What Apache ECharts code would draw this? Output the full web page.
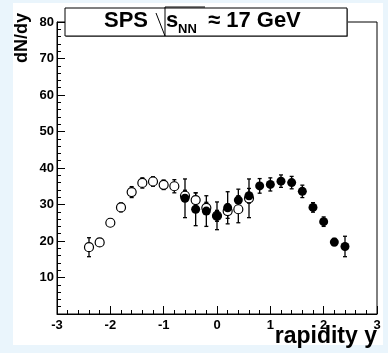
<!DOCTYPE html>
<html><head><meta charset="utf-8">
<script src="https://cdn.jsdelivr.net/npm/echarts@6/dist/echarts.min.js"></script>
<style>html,body{margin:0;padding:0;background:#eaf5fc;}#c{width:388px;height:353px;}</style>
</head><body><div id="c"></div>
<script>
// measured (filled) points
const filledX = [-0.6,-0.4,-0.2,0.0,0.2,0.4,0.6,0.8,1.0,1.2,1.4,1.6,1.8,2.0,2.2,2.4];
const filledY = [31.7,28.7,28.2,26.9,29.1,31.2,32.4,35.1,35.5,36.4,36.0,33.6,29.2,25.3,19.7,18.5];
const filledErr = [5.3,4.5,4.2,3.8,4.4,3.0,2.0,2.0,1.8,1.7,1.7,1.7,1.3,1.3,1.0,2.8];
// reflected (open) points
const openX = [-2.4,-2.2,-2.0,-1.8,-1.6,-1.4,-1.2,-1.0,-0.8,-0.6,-0.4,-0.2,0.0,0.2,0.4,0.6];
const openY = [18.3,19.6,25.0,29.2,33.4,35.9,36.3,35.4,35.0,32.4,31.2,29.1,26.9,28.2,28.7,31.7];
const openErr = [2.6,0.9,1.0,1.2,1.5,1.4,1.3,1.3,1.8,1.5,2.0,1.5,1.5,2.0,3.7,5.3];
const xTicks = [-3,-2,-1,0,1,2,3];
const yTicks = [0,10,20,30,40,50,60,70,80];

const FONT = 'Liberation Sans';
const chart = echarts.init(document.getElementById('c'));

function errSeries(xs, ys, es, color) {
  return {
    type: 'custom',
    data: xs.map((x, i) => [x, ys[i] - es[i], ys[i] + es[i]]),
    renderItem: function (params, api) {
      const lo = api.coord([api.value(0), api.value(1)]);
      const hi = api.coord([api.value(0), api.value(2)]);
      const c = 2;
      const st = { stroke: color, lineWidth: 1.3 };
      return { type: 'group', children: [
        { type: 'line', shape: { x1: lo[0], y1: lo[1], x2: hi[0], y2: hi[1] }, style: st },
        { type: 'line', shape: { x1: lo[0] - c, y1: lo[1], x2: lo[0] + c, y2: lo[1] }, style: st },
        { type: 'line', shape: { x1: hi[0] - c, y1: hi[1], x2: hi[0] + c, y2: hi[1] }, style: st }
      ]};
    },
    z: 2, silent: true
  };
}

const option = {
  animation: false,
  backgroundColor: '#eaf5fc',
  grid: { left: 57, right: 11, top: 22, bottom: 39, show: true, borderColor: '#000', borderWidth: 1, backgroundColor: 'transparent' },
  xAxis: {
    type: 'value', min: xTicks[0], max: xTicks[xTicks.length - 1], interval: 1,
    axisLine: { onZero: false, lineStyle: { color: '#000', width: 1 } },
    axisTick: { inside: true, length: 8, lineStyle: { color: '#000' } },
    minorTick: { show: true, splitNumber: 5, length: 4, lineStyle: { color: '#000' } },
    splitLine: { show: false },
    axisLabel: { color: '#000', fontFamily: FONT, fontWeight: 'bold', fontSize: 13, margin: 5 }
  },
  yAxis: {
    type: 'value', min: yTicks[0], max: yTicks[yTicks.length - 1], interval: 10,
    axisLine: { onZero: false, lineStyle: { color: '#000', width: 1 } },
    axisTick: { inside: true, length: 8, lineStyle: { color: '#000' } },
    minorTick: { show: true, splitNumber: 5, length: 4, lineStyle: { color: '#000' } },
    splitLine: { show: false },
    axisLabel: { color: '#000', fontFamily: FONT, fontWeight: 'bold', fontSize: 13, margin: 3,
      formatter: v => (v === 0 ? '' : String(v)) }
  },
  graphic: [
    { type: 'rect', z: -100, shape: { x: 13, y: 3, width: 370, height: 342 }, style: { fill: '#fff' } },
    { type: 'rect', z: 100, shape: { x: 66, y: 9, width: 282, height: 28 }, style: { fill: '#888' } },
    { type: 'rect', z: 101, shape: { x: 65, y: 8, width: 282, height: 28 }, style: { fill: '#fff', stroke: '#000', lineWidth: 1 } },
    { type: 'text', z: 102, left: 104, top: 10, style: { text: 'SPS', font: 'bold 22px "Liberation Sans"', fill: '#000' } },
    { type: 'polyline', z: 102, shape: { points: [[156, 13], [165, 36], [165, 7], [205, 7]] }, style: { stroke: '#000', lineWidth: 1, fill: null } },
    { type: 'text', z: 102, left: 166, top: 10, style: { text: 's', font: 'bold 22px "Liberation Sans"', fill: '#000' } },
    { type: 'text', z: 102, left: 178, top: 23, style: { text: 'NN', font: 'bold 13px "Liberation Sans"', fill: '#000' } },
    { type: 'text', z: 102, left: 208, top: 10, style: { text: '≈ 17 GeV', font: 'bold 22px "Liberation Sans"', fill: '#000' } },
    { type: 'text', z: 102, x: 13, y: 13, rotation: Math.PI / 2, style: { text: 'dN/dy', font: 'bold 18px "Liberation Sans"', fill: '#000', align: 'right', verticalAlign: 'top' } },
    { type: 'text', z: 102, right: 11, top: 325, style: { text: 'rapidity y', font: 'bold 23px "Liberation Sans"', fill: '#000' } }
  ],
  series: [
    errSeries(openX, openY, openErr, '#000'),
    {
      type: 'scatter', data: openX.map((x, i) => [x, openY[i]]),
      symbol: 'circle', symbolSize: 9,
      itemStyle: { color: '#fff', borderColor: '#000', borderWidth: 1.2, opacity: 1 }, z: 3, silent: true
    },
    errSeries(filledX, filledY, filledErr, '#000'),
    {
      type: 'scatter', data: filledX.map((x, i) => [x, filledY[i]]),
      symbol: 'circle', symbolSize: 9,
      itemStyle: { color: '#000', opacity: 1 }, z: 5, silent: true
    }
  ]
};
chart.setOption(option);
</script></body></html>
